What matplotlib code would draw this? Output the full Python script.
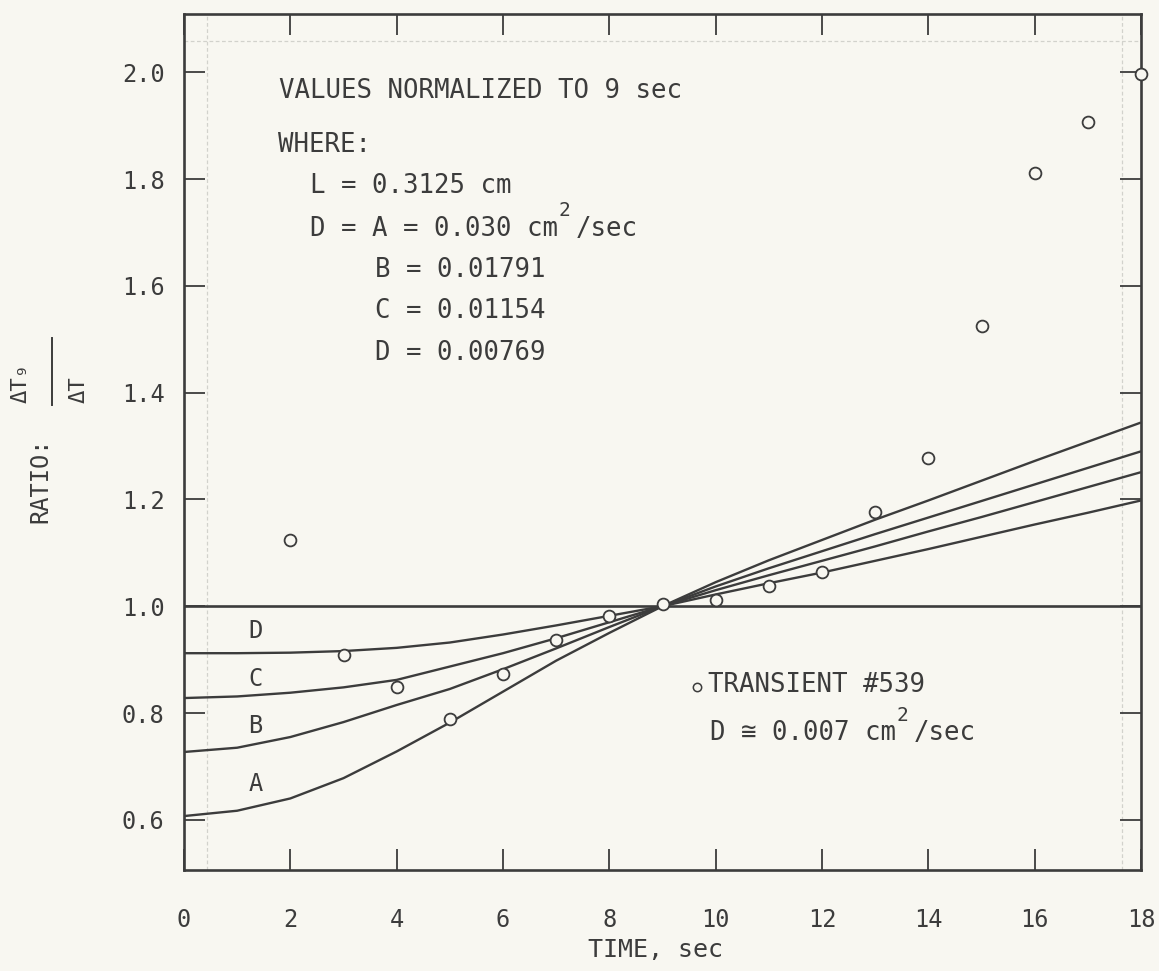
import matplotlib
matplotlib.use("Agg")
import matplotlib.pyplot as plt
from matplotlib.lines import Line2D

# ---------------- data ----------------
time_s = [0, 1, 2, 3, 4, 5, 6, 7, 8, 9, 10, 11, 12, 13, 14, 15, 16, 17, 18]
curve_A = [0.607, 0.617, 0.640, 0.678, 0.728, 0.782, 0.840, 0.898, 0.950, 1.000,
           1.045, 1.086, 1.124, 1.162, 1.198, 1.235, 1.272, 1.308, 1.344]
curve_B = [0.727, 0.735, 0.755, 0.783, 0.815, 0.845, 0.882, 0.921, 0.961, 1.000,
           1.037, 1.071, 1.103, 1.135, 1.166, 1.197, 1.228, 1.259, 1.290]
curve_C = [0.828, 0.831, 0.838, 0.848, 0.862, 0.887, 0.912, 0.940, 0.970, 1.000,
           1.030, 1.058, 1.085, 1.112, 1.140, 1.167, 1.195, 1.223, 1.251]
curve_D = [0.912, 0.912, 0.913, 0.916, 0.922, 0.932, 0.947, 0.964, 0.982, 1.000,
           1.022, 1.043, 1.063, 1.085, 1.107, 1.130, 1.153, 1.175, 1.198]
reference_line = [1.0, 1.0]
reference_x = [0, 18]

transient_t = [2, 3, 4, 5, 6, 7, 8, 9, 10, 11, 12, 13, 14, 15, 16, 17, 18]
transient_ratio = [1.124, 0.908, 0.848, 0.789, 0.873, 0.936, 0.981, 1.004, 1.011,
                   1.037, 1.064, 1.176, 1.277, 1.524, 1.812, 1.906, 1.996]

x_ticks = [0, 2, 4, 6, 8, 10, 12, 14, 16, 18]
y_ticks = [0.6, 0.8, 1.0, 1.2, 1.4, 1.6, 1.8, 2.0]
y_tick_labels = ["0.6", "0.8", "1.0", "1.2", "1.4", "1.6", "1.8", "2.0"]

# ---------------- style ----------------
BG = "#f8f7f1"
INK = "#3c3c3c"
MONO = ["DejaVu Sans Mono", "DejaVu Sans"]
W, H = 1159, 971

fig = plt.figure(figsize=(11.59, 9.71), dpi=100, facecolor=BG)
ax = fig.add_axes([184 / W, 1 - 870 / H, (1141 - 184) / W, (870 - 14) / H])
ax.set_facecolor(BG)
ax.set_xlim(0, 18)
ax.set_ylim(0.506, 2.109)

# faint guide frame from the paper
guide_kw = dict(color="#d2d2cc", lw=0.9, ls=(0, (3, 2)), zorder=0)
ax.axvline(0.43, **guide_kw)
ax.axvline(17.64, **guide_kw)
ax.axhline(2.058, **guide_kw)

# curves
for ys in (curve_A, curve_B, curve_C, curve_D):
    ax.plot(time_s, ys, color=INK, lw=1.7, solid_capstyle="butt", zorder=2)
ax.plot(reference_x, reference_line, color=INK, lw=1.9, zorder=2)

# data points
ax.plot(transient_t, transient_ratio, ls="none", marker="o", ms=8.5,
        mfc=BG, mec=INK, mew=1.3, zorder=3, clip_on=False)

# spines / ticks
for s in ax.spines.values():
    s.set_color(INK)
    s.set_linewidth(1.9)
ax.set_xticks(x_ticks)
ax.set_xticklabels([str(v) for v in x_ticks])
ax.set_yticks(y_ticks)
ax.set_yticklabels(y_tick_labels)
ax.tick_params(axis="both", direction="in", length=15, width=1.3, color=INK,
               top=True, right=True, labelcolor=INK, labelsize=17)
ax.tick_params(axis="x", pad=27)
ax.tick_params(axis="y", pad=14)
for lab in ax.get_xticklabels() + ax.get_yticklabels():
    lab.set_family(MONO)

# axis labels
fig.text(656 / W, 1 - 950 / H, "TIME, sec", ha="center", va="center",
         fontsize=18, family=MONO, color=INK)
fig.text(40 / W, 1 - 480 / H, "RATIO:", rotation=90, ha="center", va="center",
         fontsize=17, family=MONO, color=INK)
# stacked fraction  ΔT9 / ΔT  (rotated)
fig.text(21 / W, 1 - 403 / H, "\u0394T\u2089", rotation=90, ha="center", va="bottom",
         fontsize=16, family=MONO, color=INK)
fig.text(79 / W, 1 - 403 / H, "\u0394T", rotation=90, ha="center", va="bottom",
         fontsize=16, family=MONO, color=INK)
fig.add_artist(Line2D([52 / W, 52 / W], [1 - 405 / H, 1 - 338 / H],
                      transform=fig.transFigure, color=INK, lw=1.4))

# annotation block
FS = 18.5
CW = 0.602 * FS  # monospace advance in points
txt_kw = dict(fontsize=FS, family=MONO, color=INK, ha="left", va="center")
sup_kw = dict(fontsize=14, family=MONO, color=INK, ha="left", va="center",
              textcoords="offset points")
ax.text(1.79, 1.964, "VALUES NORMALIZED TO 9 sec", **txt_kw)
ax.text(1.77, 1.863, "WHERE:", **txt_kw)
ax.text(2.37, 1.786, "L = 0.3125 cm", **txt_kw)
ax.text(2.37, 1.707, "D = A = 0.030 cm", **txt_kw)
ax.annotate("2", xy=(2.37, 1.707), xytext=(16 * CW + 1, 13), **sup_kw)
ax.annotate("/sec", xy=(2.37, 1.707), xytext=(17 * CW + 2, 0),
            textcoords="offset points", **txt_kw)
ax.text(3.59, 1.629, "B = 0.01791", **txt_kw)
ax.text(3.59, 1.552, "C = 0.01154", **txt_kw)
ax.text(3.59, 1.474, "D = 0.00769", **txt_kw)

# curve labels
for lbl, yy in (("D", 0.953), ("C", 0.863), ("B", 0.775), ("A", 0.667)):
    ax.text(1.34, yy, lbl, fontsize=17, family=MONO, color=INK, ha="center", va="center")

# legend-like note
ax.plot([9.65], [0.848], ls="none", marker="o", ms=6, mfc=BG, mec=INK, mew=1.1)
ax.text(9.86, 0.852, "TRANSIENT #539", **txt_kw)
ax.text(9.89, 0.762, "D \u2245 0.007 cm", **txt_kw)
ax.annotate("2", xy=(9.89, 0.762), xytext=(12 * CW + 1, 13), **sup_kw)
ax.annotate("/sec", xy=(9.89, 0.762), xytext=(13 * CW + 2, 0),
            textcoords="offset points", **txt_kw)

fig.savefig("out.png", dpi=100, facecolor=BG)
